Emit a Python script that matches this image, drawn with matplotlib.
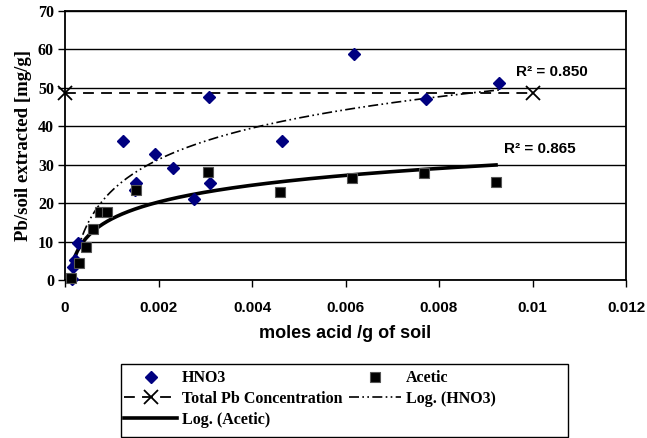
import matplotlib
matplotlib.use('Agg')
import matplotlib.pyplot as plt
from matplotlib.patches import Rectangle
from matplotlib.ticker import FuncFormatter, MultipleLocator
import numpy as np

# values
hno3_x = [0.00014, 0.00018, 0.00021, 0.00028, 0.00123, 0.00150, 0.00152, 0.00193,
          0.00232, 0.00277, 0.00309, 0.00310, 0.00465, 0.00618, 0.00772, 0.00929]
hno3_y = [0.2, 3.5, 5.2, 9.7, 36.3, 23.5, 25.2, 32.8,
          29.2, 21.0, 47.5, 25.2, 36.3, 58.8, 47.1, 51.2]

acetic_x = [0.00013, 0.00030, 0.00045, 0.00059, 0.00075, 0.00090, 0.00151,
            0.00305, 0.00460, 0.00613, 0.00768, 0.00922]
acetic_y = [0.6, 4.5, 8.7, 13.4, 17.8, 17.8, 23.4,
            28.2, 23.0, 26.6, 27.8, 25.4]

total_pb_x = [0.0, 0.01]
total_pb_y = [48.6, 48.6]

r2_hno3 = 0.850
r2_acetic = 0.865

SANS = 'Liberation Sans'
SERIF = 'Liberation Serif'


def log_trend(x, y):
    x = np.asarray(x)
    a, b = np.polyfit(np.log(x), np.asarray(y), 1)
    xs = np.linspace(x.min(), x.max(), 400)
    return xs, a * np.log(xs) + b


fig = plt.figure(figsize=(6.47, 4.38), dpi=100)
ax = fig.add_axes([65 / 647, 1 - 280 / 438, 561 / 647, 269 / 438])

ax.set_xlim(0, 0.012)
ax.set_ylim(0, 70)
ax.yaxis.set_major_locator(MultipleLocator(10))
ax.xaxis.set_major_locator(MultipleLocator(0.002))
ax.xaxis.set_major_formatter(FuncFormatter(lambda v, p: '%g' % round(v, 6)))
ax.grid(axis='y', color='black', linewidth=1.0)
ax.set_axisbelow(True)
for s in ax.spines.values():
    s.set_linewidth(1.3)
    s.set_color('black')

ax.tick_params(axis='x', direction='out', length=5, width=1, pad=10)
ax.tick_params(axis='y', direction='out', length=5, width=1, pad=3)
for lab in ax.get_xticklabels():
    lab.set_fontfamily(SANS)
    lab.set_fontweight('bold')
    lab.set_fontsize(11)
for lab in ax.get_yticklabels():
    lab.set_fontfamily(SERIF)
    lab.set_fontweight('bold')
    lab.set_fontsize(11.5)

# trend lines
hx, hy = log_trend(hno3_x, hno3_y)
axx, axy = log_trend(acetic_x, acetic_y)
l_hno3_trend, = ax.plot(hx, hy, color='black', linewidth=1.2,
                        linestyle=(0, (6, 2, 1, 2, 1, 2)), label='Log. (HNO3)')
l_ac_trend, = ax.plot(axx, axy, color='black', linewidth=2.6, label='Log. (Acetic)')

l_total, = ax.plot(total_pb_x, total_pb_y, color='black', linewidth=1.3,
                   linestyle=(0, (6, 4)), marker='x', markersize=10, mew=1.3,
                   label='Total Pb Concentration', clip_on=False, zorder=4)

l_hno3, = ax.plot(hno3_x, hno3_y, linestyle='none', marker='D', markersize=6,
                  color='#000080', label='HNO3', clip_on=False, zorder=5)
l_ac, = ax.plot(acetic_x, acetic_y, linestyle='none', marker='s', markersize=7,
                markerfacecolor='black', markeredgecolor='#555555', mew=0.8,
                label='Acetic', clip_on=False, zorder=5)

ax.text(0.00965, 54.2, 'R² = %.3f' % r2_hno3, fontfamily=SANS, fontweight='bold',
        fontsize=11, va='center', ha='left')
ax.text(0.00939, 34.0, 'R² = %.3f' % r2_acetic, fontfamily=SANS, fontweight='bold',
        fontsize=11, va='center', ha='left')

ax.set_xlabel('moles acid /g of soil', fontfamily=SANS, fontweight='bold',
              fontsize=13, labelpad=7)
ax.set_ylabel('Pb/soil extracted [mg/g]', fontfamily=SERIF, fontweight='bold',
              fontsize=13.5, labelpad=4)

# legend box below the chart
fig.patches.append(Rectangle((121 / 647, 1 - 437 / 438), 447 / 647, 73 / 438,
                             transform=fig.transFigure, fill=False,
                             edgecolor='black', linewidth=1.0))
handles = [l_hno3, l_total, l_ac_trend, l_ac, l_hno3_trend]
leg = fig.legend(handles, [h.get_label() for h in handles], ncol=2,
                 loc='upper left', bbox_to_anchor=(121 / 647, 1 - 367 / 438),
                 frameon=False, numpoints=1, handlelength=3.3, handletextpad=0.3,
                 columnspacing=0.4, labelspacing=0.3, borderpad=0.2, borderaxespad=0,
                 prop={'family': SERIF, 'weight': 'bold', 'size': 11.5})

fig.savefig('out.png', dpi=100)
